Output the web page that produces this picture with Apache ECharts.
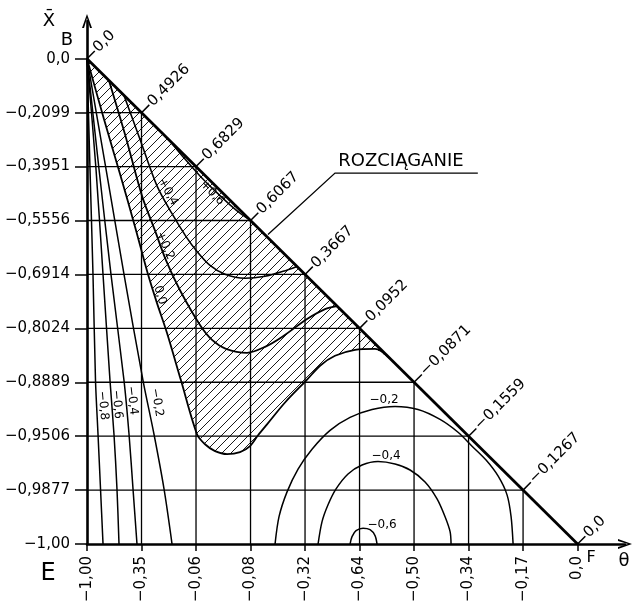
<!DOCTYPE html>
<html><head><meta charset="utf-8">
<script src="https://cdn.jsdelivr.net/npm/echarts@6/dist/echarts.min.js"></script>
<style>html,body{margin:0;padding:0;background:#fff}#c{width:635px;height:605px}</style>
</head><body><div id="c"></div>
<script>
// ---------- data ----------
const xLabels = ['−1,00','−0,35','−0,06','−0,08','−0,32','−0,64','−0,50','−0,34','−0,17','0,0'];
const yLabels = ['−1,00','−0,9877','−0,9506','−0,8889','−0,8024','−0,6914','−0,5556','−0,3951','−0,2099','0,0'];
const diagLabels = ['0,0','0,4926','0,6829','0,6067','0,3667','0,0952','−0,0871','−0,1559','−0,1267','0,0'];
const gridSteps = [1,2,3,4,5,6,7,8];
const gridAll = [0,1,2,3,4,5,6,7,8,9];
const diagonal = [[0,9],[9,0]];

const cM08 = [[0,9],[0.055,6.955],[0.11,5.0],[0.156,3.031],[0.202,2.036],[0.248,1.022],[0.294,0]];
const cM06 = [[0,9],[0.165,6.955],[0.294,5.0],[0.422,3.031],[0.495,2.036],[0.55,1.022],[0.587,0]];
const cM04 = [[0,9],[0.22,6.955],[0.44,5.0],[0.679,3.031],[0.771,2.036],[0.844,1.022],[0.917,0]];
const cM02 = [[0,9],[0.349,6.955],[0.679,5.0],[1.028,3.031],[1.229,2.036],[1.413,1.022],[1.56,0]];
const c00 = [[0,9],[0.312,7.876],[0.606,6.863],[0.881,5.886],[1.119,5.002],[1.284,4.468],[1.468,3.915],[1.725,3.031],[2.018,2.036],[2.165,1.851],[2.349,1.723],[2.569,1.667],[2.807,1.704],[2.991,1.815],[3.138,2.017],[3.303,2.22],[3.633,2.625],[4.037,3.049],[4.275,3.307],[4.55,3.491],[4.917,3.602],[5.284,3.62],[5.56,3.44]];
const cP02 = [[0.404,8.594],[0.697,7.6],[1.009,6.457],[1.248,5.812],[1.45,5.26],[1.706,4.707],[2.073,4.062],[2.294,3.786],[2.55,3.62],[2.936,3.546],[3.266,3.657],[3.578,3.841],[4.037,4.173],[4.367,4.357],[4.587,4.412]];
const cP04 = [[0.679,8.318],[0.972,7.507],[1.284,6.642],[1.56,6.126],[1.817,5.702],[2.018,5.426],[2.257,5.168],[2.532,5.002],[2.899,4.928],[3.266,4.965],[3.596,5.057],[3.853,5.149]];
const cP06 = [[1.523,7.471],[1.798,7.139],[2.073,6.826],[2.349,6.549],[2.624,6.291],[2.844,6.107],[3.009,5.997]];
const cN02 = [[3.45,0],[3.523,0.507],[3.67,0.967],[3.872,1.391],[4.128,1.759],[4.459,2.109],[4.826,2.349],[5.229,2.496],[5.651,2.552],[6.073,2.496],[6.477,2.312],[6.807,2.073],[7.064,1.815],[7.321,1.557],[7.541,1.262],[7.706,0.912],[7.78,0.507],[7.817,0]];
const cN04 = [[4.239,0],[4.312,0.415],[4.422,0.728],[4.569,1.022],[4.789,1.299],[5.046,1.465],[5.339,1.529],[5.651,1.483],[5.927,1.373],[6.202,1.151],[6.422,0.838],[6.569,0.507],[6.661,0.23],[6.679,0]];
const cN06 = [[4.826,0],[4.862,0.138],[4.936,0.249],[5.064,0.295],[5.193,0.267],[5.284,0.157],[5.321,0]];

const contourTexts = ['−0,8','−0,6','−0,4','−0,2','0,0','+0,2','+0,4','+0,6','−0,2','−0,4','−0,6'];
const regionText = 'ROZCIĄGANIE';
const axisNames = ['X̄','B','E','F','θ'];

// ---------- layout (placement of annotations, in axis units) ----------
const FONT = 'DejaVu Sans';
const contourPlace = [
  {at:[0.294,2.57], rot:-1.48}, {at:[0.55,2.59], rot:-1.48}, {at:[0.826,2.66], rot:-1.45}, {at:[1.284,2.625], rot:-1.40},
  {at:[1.339,4.615], rot:-1.27}, {at:[1.431,5.536], rot:-1.15}, {at:[1.486,6.531], rot:-1.07}, {at:[2.294,6.513], rot:-0.8},
  {at:[5.45,2.68], rot:0}, {at:[5.486,1.63], rot:0}, {at:[5.413,0.35], rot:0}
];
const namePlace = [
  {at:[-0.697,9.70], size:18}, {at:[-0.367,9.35], size:18}, {at:[-0.716,-0.543], size:24},
  {at:[9.248,-0.249], size:16}, {at:[9.853,-0.322], size:18}
];
const leader = [[3.32,5.74],[4.55,6.88],[7.17,6.88]];
const regionTextAt = [4.61,7.10];

// hatch pattern
const pc = document.createElement('canvas'); pc.width = 9; pc.height = 9;
const g = pc.getContext('2d'); g.strokeStyle = '#000'; g.lineWidth = 0.9;
for (const o of [-9,0,9]) { g.beginPath(); g.moveTo(o, 9); g.lineTo(o + 9, 0); g.stroke(); }

function contour(data, w) {
  return {type:'line', data, smooth:0.3, showSymbol:false, silent:true, z:4,
    lineStyle:{color:'#000', width:w || 1.5}};
}

const chart = echarts.init(document.getElementById('c'), null, {renderer:'canvas'});
chart.setOption({
  animation:false,
  backgroundColor:'#fff',
  grid:{left:87, right:10, top:21, bottom:57.5, containLabel:false},
  xAxis:{type:'value', min:0, max:9.87, interval:1,
    axisLine:{show:true, onZero:false, lineStyle:{color:'#000', width:2.6},
      symbol:['none','path://M5,0 L10,14 L8,14 L5,4 L2,14 L0,14 Z'], symbolSize:[10,16]},
    axisTick:{show:true, length:7, customValues:gridAll, lineStyle:{color:'#000', width:1.5}},
    axisLabel:{customValues:gridAll, formatter:v => xLabels[Math.round(v)], rotate:90, margin:12,
      color:'#000', fontSize:15, fontFamily:FONT},
    splitLine:{show:false}},
  yAxis:{type:'value', min:0, max:9.7, interval:1,
    axisLine:{show:true, onZero:false, lineStyle:{color:'#000', width:2.6},
      symbol:['none','path://M5,0 L10,14 L8,14 L5,4 L2,14 L0,14 Z'], symbolSize:[10,16]},
    axisTick:{show:true, length:12, customValues:gridAll, lineStyle:{color:'#000', width:1.5}},
    axisLabel:{customValues:gridAll, formatter:v => yLabels[Math.round(v)], margin:17,
      color:'#000', fontSize:15, fontFamily:FONT},
    splitLine:{show:false}},
  series:[
    // hatched tension region: between 0.0 contour and the diagonal
    {type:'custom', silent:true, z:1, data:[[0,9]],
      renderItem:(p, api) => ({type:'polygon', shape:{points:c00.map(q => api.coord(q))},
        style:{fill:{image:pc, repeat:'repeat'}, stroke:null}})},
    // grid lines inside triangle
    {type:'custom', silent:true, z:2, data:gridSteps.map(k => [k, k]),
      renderItem:(p, api) => {
        const k = api.value(0);
        const a = api.coord([k,0]), b = api.coord([k,9-k]);
        const c = api.coord([0,k]), d = api.coord([9-k,k]);
        return {type:'group', children:[
          {type:'line', shape:{x1:a[0],y1:a[1],x2:b[0],y2:b[1]}, style:{stroke:'#000', lineWidth:1.3}},
          {type:'line', shape:{x1:c[0],y1:c[1],x2:d[0],y2:d[1]}, style:{stroke:'#000', lineWidth:1.3}}
        ]};
      }},
    // diagonal boundary
    {type:'line', data:diagonal, showSymbol:false, silent:true, z:5, lineStyle:{color:'#000', width:2.8}},
    contour(cM08), contour(cM06), contour(cM04), contour(cM02),
    contour(c00, 1.8), contour(cP02, 1.8), contour(cP04, 1.6), contour(cP06, 1.5),
    contour(cN02), contour(cN04), contour(cN06),
    // diagonal value labels
    {type:'custom', silent:true, z:6, data:gridAll.map(k => [k, 9-k]),
      renderItem:(p, api) => {
        const q = api.coord([api.value(0), api.value(1)]);
        const d = 11 / Math.SQRT2;
        return {type:'group', children:[
          {type:'line', shape:{x1:q[0], y1:q[1], x2:q[0]+d, y2:q[1]-d}, style:{stroke:'#000', lineWidth:1.5}},
          {type:'text', x:q[0]+d+1, y:q[1]-d-1, rotation:Math.PI/4,
            style:{text:diagLabels[p.dataIndex], font:'15px "' + FONT + '"', fill:'#000', align:'left', verticalAlign:'middle'}}
        ]};
      }},
    // contour labels
    {type:'custom', silent:true, z:7, data:contourPlace.map(c => c.at),
      renderItem:(p, api) => {
        const q = api.coord([api.value(0), api.value(1)]);
        return {type:'text', x:q[0], y:q[1], rotation:contourPlace[p.dataIndex].rot,
          style:{text:contourTexts[p.dataIndex], font:'12px "' + FONT + '"', fill:'#000', align:'center', verticalAlign:'middle'}};
      }},
    // axis names
    {type:'custom', silent:true, z:7, data:namePlace.map(c => c.at),
      renderItem:(p, api) => {
        const q = api.coord([api.value(0), api.value(1)]);
        return {type:'text', x:q[0], y:q[1],
          style:{text:axisNames[p.dataIndex], font:namePlace[p.dataIndex].size + 'px "' + FONT + '"', fill:'#000', align:'center', verticalAlign:'middle'}};
      }},
    // region annotation with leader
    {type:'custom', silent:true, z:7, data:[regionTextAt],
      renderItem:(p, api) => {
        const q = api.coord([api.value(0), api.value(1)]);
        return {type:'group', children:[
          {type:'polyline', shape:{points:leader.map(v => api.coord(v))}, style:{stroke:'#000', lineWidth:1.3, fill:null}},
          {type:'text', x:q[0], y:q[1], style:{text:regionText, font:'18px "' + FONT + '"', fill:'#000', align:'left', verticalAlign:'middle'}}
        ]};
      }}
  ]
});
</script></body></html>
